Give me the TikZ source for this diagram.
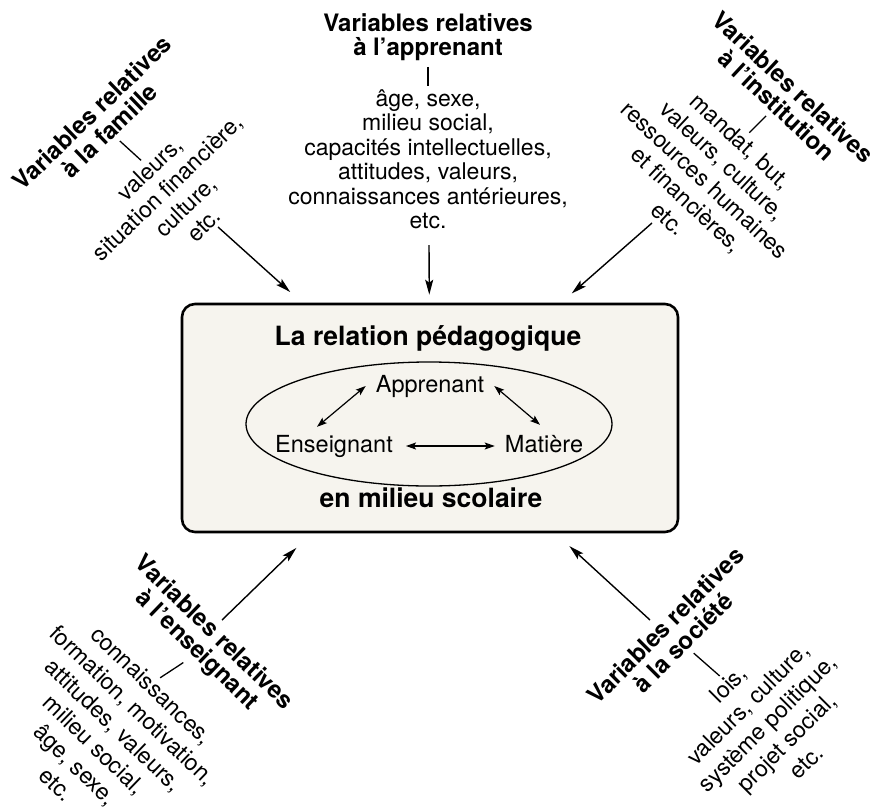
\documentclass[tikz,border=0pt]{standalone}
\usepackage{fontspec}
\setmainfont{TeX Gyre Heros}
\usetikzlibrary{arrows.meta,shapes.geometric}
\definecolor{boxfill}{RGB}{246,244,238}
\begin{document}
\begin{tikzpicture}[x=1pt,y=-1pt,
  title/.style={font=\bfseries\fontsize{24}{#1}\selectfont, align=center, inner sep=0pt},
  title/.default=24.5,
  lst/.style={font=\fontsize{23}{#1}\selectfont, align=center, inner sep=0pt},
  lst/.default=24.5,
  btitle/.style={font=\bfseries\fontsize{26.5}{30}\selectfont, inner sep=0pt, anchor=base},
  inner/.style={font=\fontsize{23.5}{26}\selectfont, inner sep=0pt, anchor=base, text height=17pt, text depth=5pt},
  conn/.style={line width=1.3pt, shorten <=6pt, shorten >=3pt},
  arr/.style={line width=1.4pt, -{Stealth[length=15pt,width=8pt,inset=3pt]}},
  dbl/.style={line width=1.2pt, {Stealth[length=10pt,width=7pt,inset=2pt]}-{Stealth[length=10pt,width=7pt,inset=2pt]}}
]
\useasboundingbox[fill=white] (0,0) rectangle (877,811);

% central box
\node[draw, rounded corners=13pt, line width=2.6pt, fill=boxfill,
      minimum width=496pt, minimum height=228pt, inner sep=0pt] (box) at (430,418) {};
\node[draw, ellipse, line width=1.3pt, minimum width=366pt, minimum height=124pt, inner sep=0pt] (ell) at (429,424) {};
\node[btitle] (rel) at (428,345) {La relation pédagogique};
\node[btitle] (mil) at (431,507) {en milieu scolaire};
\node[inner] (app) at (430,392) {Apprenant};
\node[inner] (ens) at (334,452) {Enseignant};
\node[inner] (mat) at (544,452) {Matière};
\draw[dbl, shorten <=13pt, shorten >=10pt] (ens.east) -- (mat.west);
\draw[dbl] ([shift={(-17pt,8pt)}]ens.north) -- ([xshift=-10pt]app.west);
\draw[dbl] ([xshift=10pt]app.east) -- ([shift={(-4pt,10pt)}]mat.north);

% apprenant (top)
\node[title=23.5] (appT) at (428,37.4) {Variables relatives\\à l’apprenant};
\node[lst=24.5] (appL) at (428,159.5) {âge, sexe,\\milieu social,\\capacités intellectuelles,\\attitudes, valeurs,\\connaissances antérieures,\\etc.};
\draw[conn] (appT.south) -- (appL.north);
\coordinate (aa) at (429,245);
\draw[arr, shorten >=8pt] (aa) -- (box);

% famille (top left)
\node[title, rotate=44] (famT) at (100.5,121.5) {Variables relatives\\à la famille};
\node[lst=26, rotate=44] (famL) at (176.5,196.75) {valeurs,\\situation financière,\\culture,\\etc.};
\draw[conn] (famT.south) -- (famL.north);
\coordinate (fa) at (218,227);
\draw[arr, shorten >=16pt] (fa) -- (box);

% institution (top right)
\node[title, rotate=-43] (insT) at (785,96) {Variables relatives\\à l’institution};
\node[lst=26.5, rotate=-43] (insL) at (705,180) {mandat, but,\\valeurs, culture,\\ressources humaines\\et financières,\\etc.};
\draw[conn] (insT.south) -- (insL.north);
\coordinate (ia) at (652,223);
\draw[arr, shorten >=14pt] (ia) -- (box);

% enseignant (bottom left)
\node[title, rotate=-44] (ensT) at (205,642) {Variables relatives\\à l’enseignant};
\node[lst=27.5, rotate=-44] (ensL) at (104,735) {connaissances,\\formation, motivation,\\attitudes, valeurs,\\milieu social,\\âge, sexe,\\etc.};
\draw[conn] (ensT.south) -- (ensL.north);
\coordinate (ea) at (222,620);
\draw[arr, shorten >=21pt] (ea) -- (box);

% societe (bottom right)
\node[title, rotate=45] (socT) at (674,634) {Variables relatives\\à la société};
\node[lst=27.5, rotate=45] (socL) at (767,723) {lois,\\valeurs, culture,\\système politique,\\projet social,\\etc.};
\draw[conn] (socT.south) -- (socL.north);
\coordinate (sa) at (650,620);
\draw[arr, shorten >=19pt] (sa) -- (box);
\end{tikzpicture}
\end{document}
